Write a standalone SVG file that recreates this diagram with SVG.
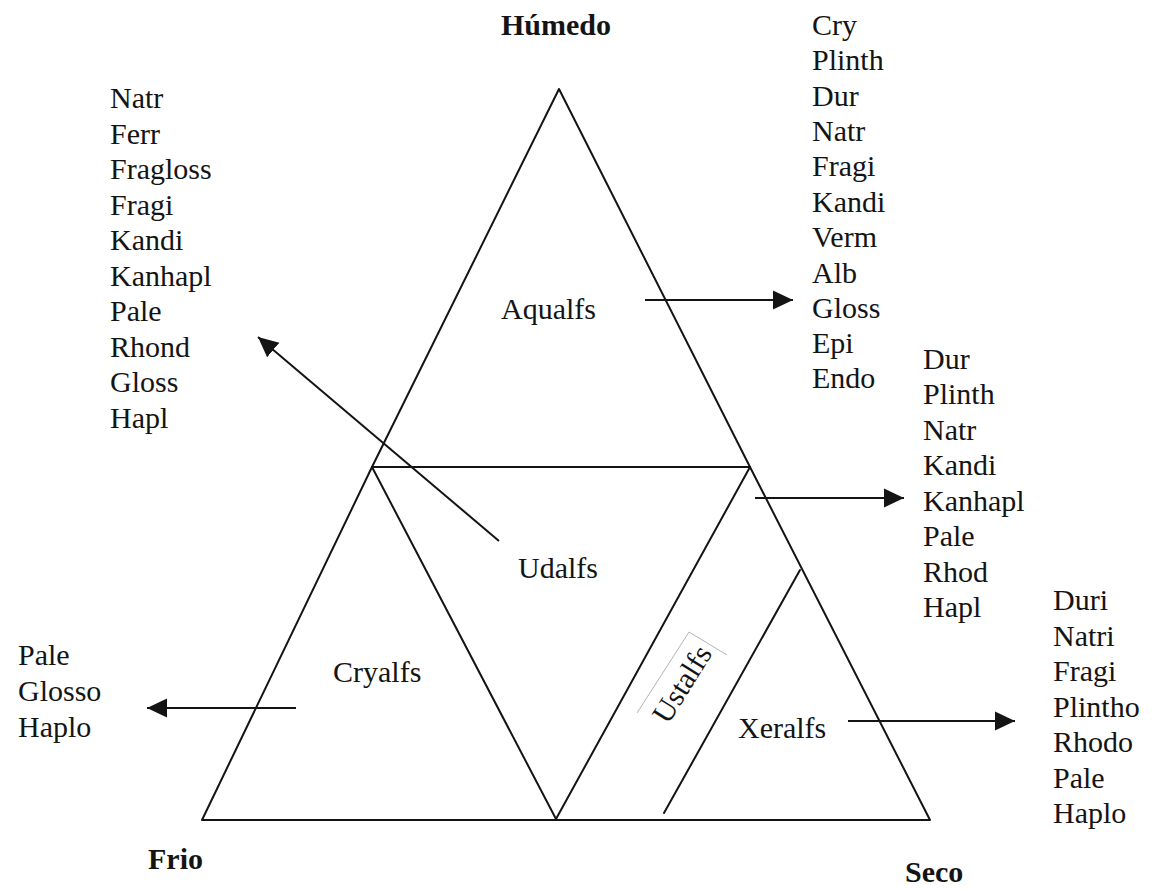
<svg xmlns="http://www.w3.org/2000/svg" width="1155" height="890" viewBox="0 0 1155 890">
<style>
text{font-family:"Liberation Serif","Times New Roman",serif;font-size:30px;fill:#141414}
.b{font-weight:bold}
.ln{stroke:#141414;stroke-width:2;fill:none;stroke-linecap:round;stroke-linejoin:round}
.ar{stroke:#141414;stroke-width:2;fill:none;marker-end:url(#ah)}
.gr{stroke:#b4b4b4;stroke-width:1;fill:none}
</style>
<defs>
<marker id="ah" markerUnits="userSpaceOnUse" markerWidth="22" markerHeight="22" viewBox="0 0 22 22" refX="20" refY="11" orient="auto">
<path d="M0,1.5 L20,11 L0,20.5 Z" fill="#141414"/>
</marker>
</defs>
<rect width="1155" height="890" fill="#ffffff"/>

<g id="triangle">
<path class="ln" d="M559,89 L372,467 L202,820 L930,820 L750,467 Z"/>
<path class="ln" d="M372,467 L750,467"/>
<path class="ln" d="M372,467 L556,819 L750,467"/>
<path class="ln" d="M800,570 L664,813"/>
</g>

<g id="corners">
<text class="b" x="501" y="35">Húmedo</text>
<text class="b" x="148" y="869">Frio</text>
<text class="b" x="905" y="882">Seco</text>
</g>

<g id="aqualfs"><text x="501" y="319">Aqualfs</text></g>
<g id="udalfs"><text x="518" y="578">Udalfs</text></g>
<g id="cryalfs"><text x="333" y="682">Cryalfs</text></g>
<g id="xeralfs"><text x="738" y="738">Xeralfs</text></g>
<g id="ustalfs">
<path class="gr" d="M637,713 L689,632 L727,655"/>
<text transform="translate(682,684) rotate(-58)" x="0" y="10" text-anchor="middle">Ustalfs</text>
</g>

<g id="list-udalfs">
<text x="110" y="108">Natr</text>
<text x="110" y="143.5">Ferr</text>
<text x="110" y="179">Fragloss</text>
<text x="110" y="214.5">Fragi</text>
<text x="110" y="250">Kandi</text>
<text x="110" y="285.5">Kanhapl</text>
<text x="110" y="321">Pale</text>
<text x="110" y="356.5">Rhond</text>
<text x="110" y="392">Gloss</text>
<text x="110" y="427.5">Hapl</text>
</g>

<g id="list-aqualfs">
<text x="812" y="35">Cry</text>
<text x="812" y="70.3">Plinth</text>
<text x="812" y="105.6">Dur</text>
<text x="812" y="141">Natr</text>
<text x="812" y="176.2">Fragi</text>
<text x="812" y="211.5">Kandi</text>
<text x="812" y="247">Verm</text>
<text x="812" y="282.5">Alb</text>
<text x="812" y="317.7">Gloss</text>
<text x="812" y="353">Epi</text>
<text x="812" y="388">Endo</text>
</g>

<g id="list-ustalfs">
<text x="923" y="368.5">Dur</text>
<text x="923" y="404">Plinth</text>
<text x="923" y="439.5">Natr</text>
<text x="923" y="475">Kandi</text>
<text x="923" y="510.5">Kanhapl</text>
<text x="923" y="546">Pale</text>
<text x="923" y="581.5">Rhod</text>
<text x="923" y="617">Hapl</text>
</g>

<g id="list-xeralfs">
<text x="1053" y="610">Duri</text>
<text x="1053" y="645.5">Natri</text>
<text x="1053" y="681">Fragi</text>
<text x="1053" y="716.5">Plintho</text>
<text x="1053" y="752">Rhodo</text>
<text x="1053" y="787.5">Pale</text>
<text x="1053" y="823">Haplo</text>
</g>

<g id="list-cryalfs">
<text x="18" y="665">Pale</text>
<text x="18" y="701">Glosso</text>
<text x="18" y="737">Haplo</text>
</g>

<g id="connectors">
<line class="ar" x1="645" y1="300" x2="793" y2="300"/>
<line class="ar" x1="499" y1="541" x2="258" y2="337"/>
<line class="ar" x1="755" y1="498" x2="904" y2="498"/>
<line class="ar" x1="296" y1="708" x2="147" y2="708"/>
<line class="ar" x1="848" y1="721" x2="1015" y2="721"/>
</g>
</svg>
